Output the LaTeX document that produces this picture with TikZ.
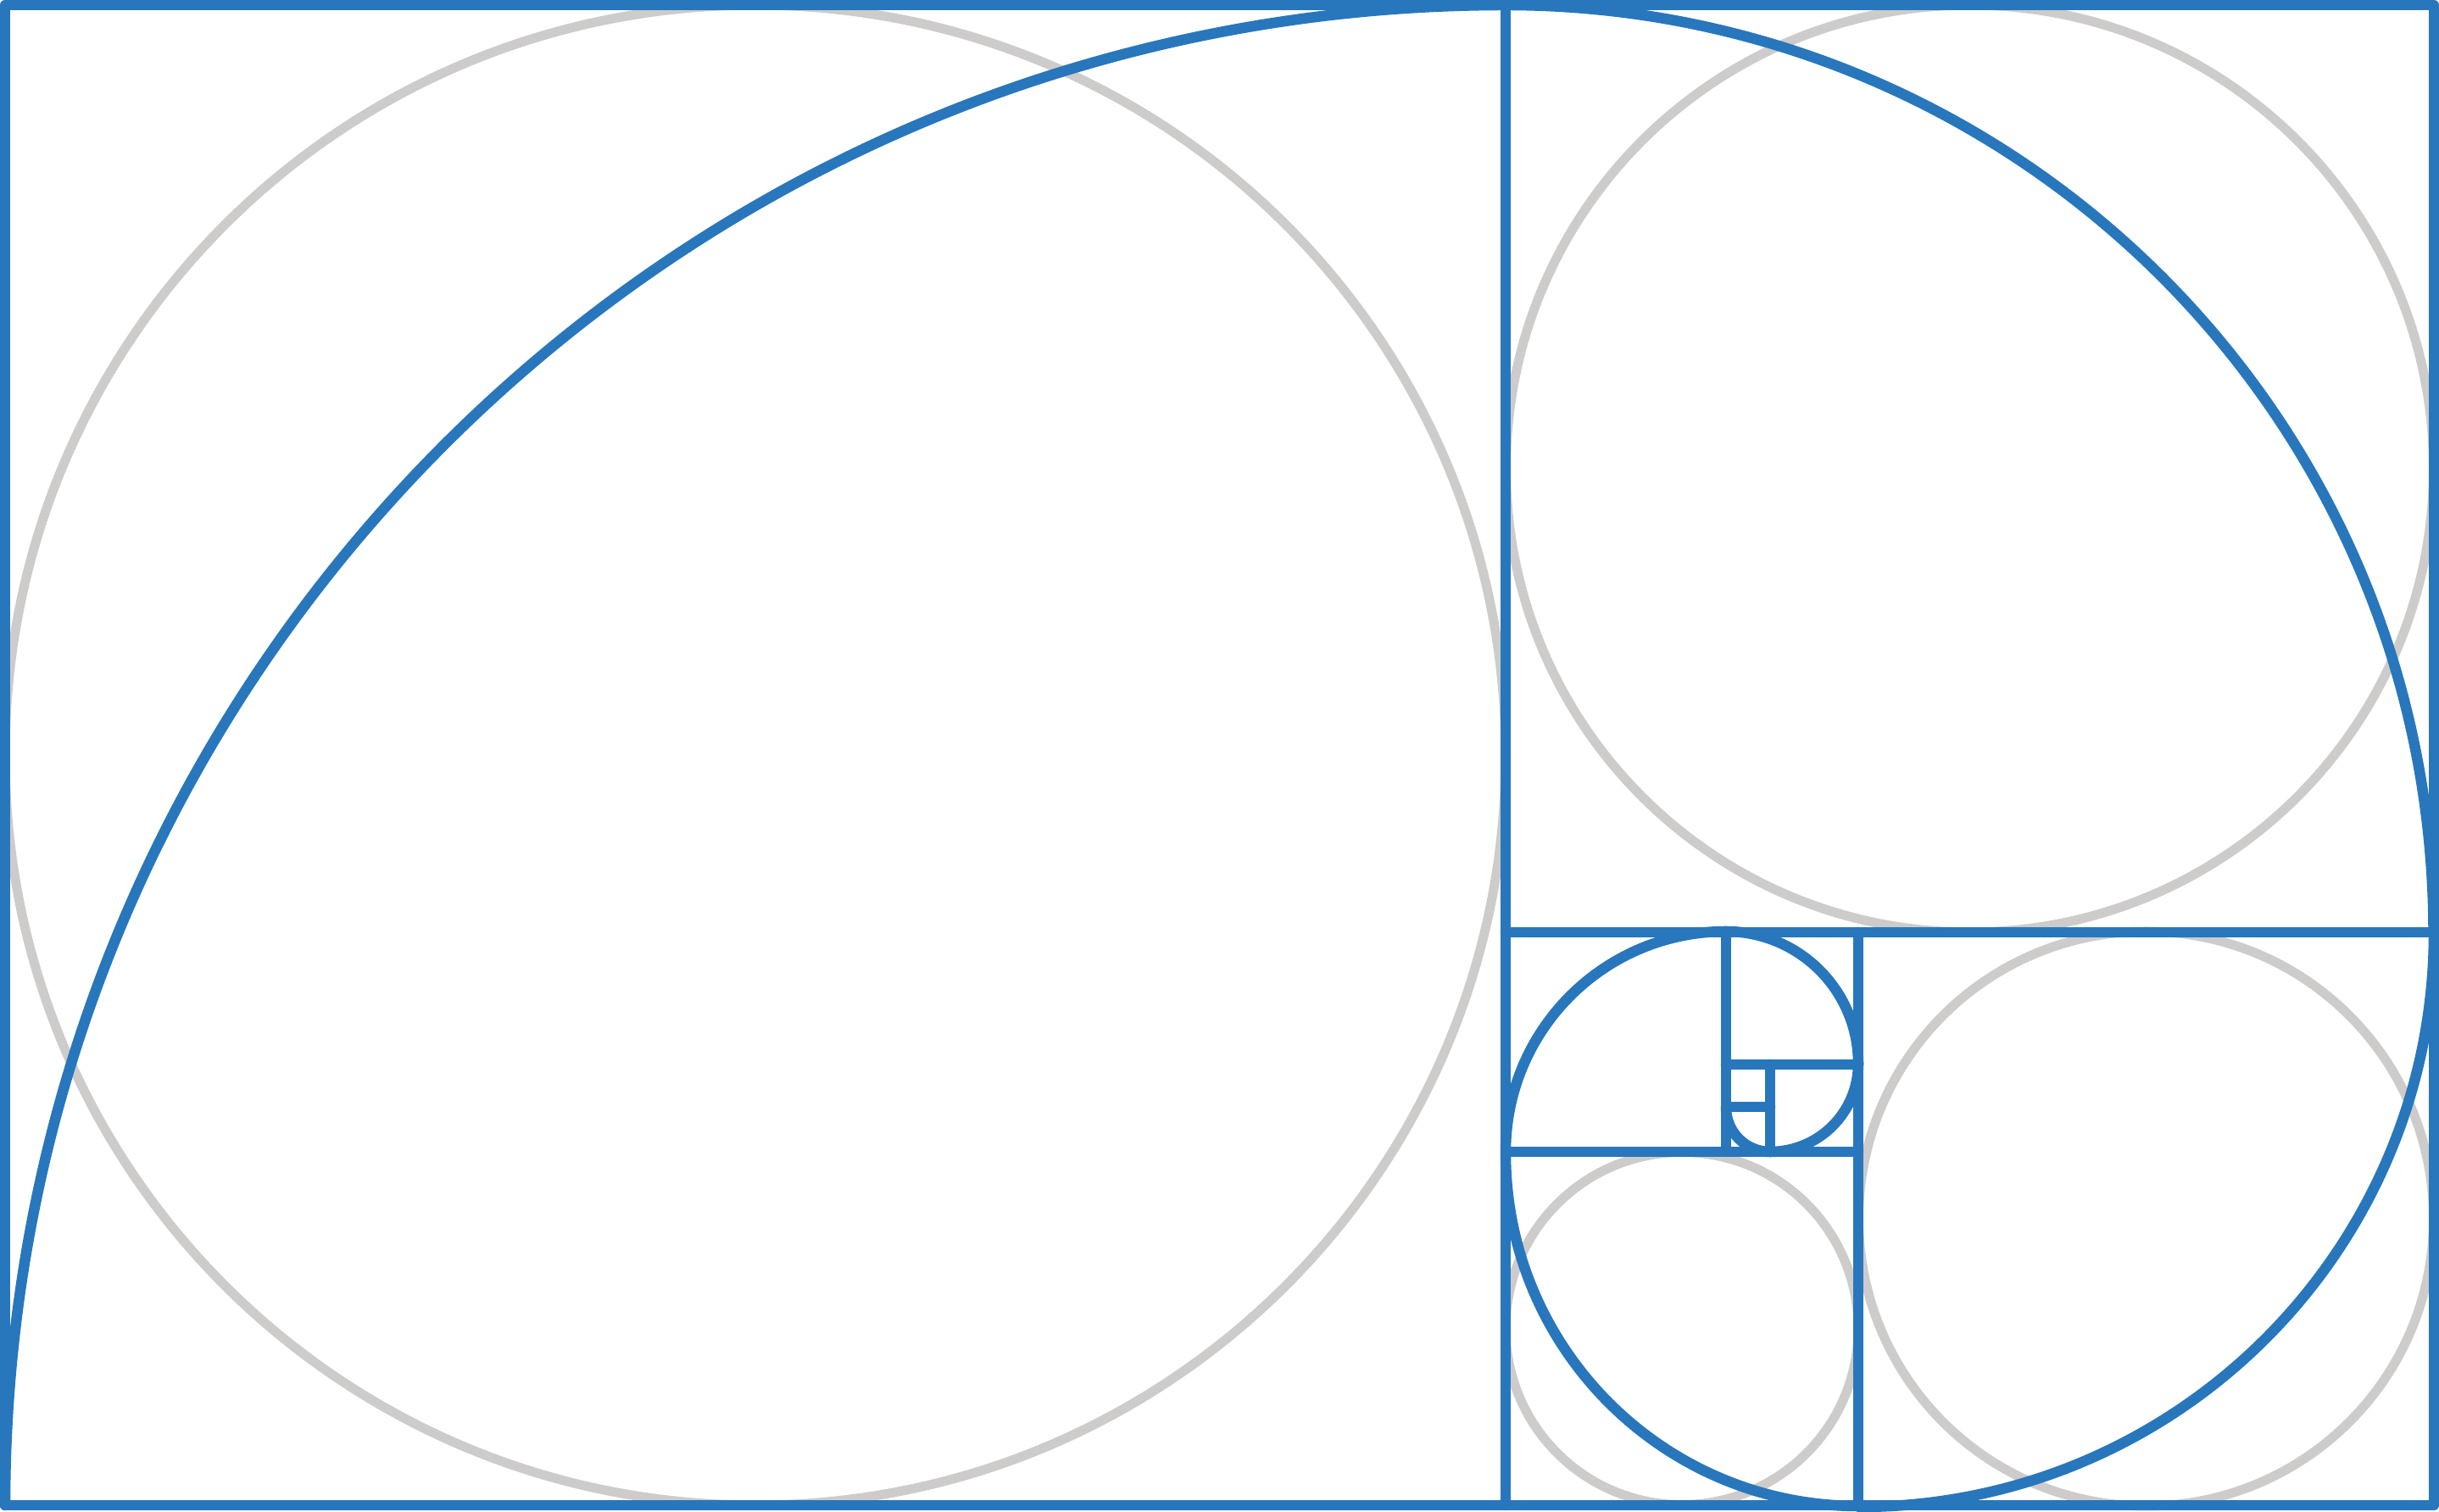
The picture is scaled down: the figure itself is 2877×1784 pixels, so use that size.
\documentclass[tikz,border=0pt]{standalone}
\definecolor{spiralblue}{HTML}{2877BC}
\definecolor{guidegray}{HTML}{CDCCCB}
\begin{document}
\begin{tikzpicture}[x=1pt,y=1pt,
  blueline/.style={draw=spiralblue,line width=12.5pt,line join=round,line cap=round},
  grayline/.style={draw=guidegray,line width=11pt}]
\useasboundingbox (0,0) rectangle (2877,1784);
\fill[white] (0,0) rectangle (2877,1784);
% gray inscribed circles
\draw[grayline] (891,893) circle[radius=885];
\draw[grayline] (2323.5,1231) circle[radius=547];
\draw[grayline] (2531.5,346) circle[radius=339];
\draw[grayline] (1984,216.5) circle[radius=208];
% squares
\coordinate (bl) at (6,8);
\coordinate (tr) at (2871,1778);
\draw[blueline] (bl) rectangle (tr);
\draw[blueline] (1776,8) -- (1776,1778);
\draw[blueline] (1776,684) -- (2871,684);
\draw[blueline] (2192,684) -- (2192,8);
\draw[blueline] (1776,425) -- (2192,425);
\draw[blueline] (2036,684) -- (2036,425);
\draw[blueline] (2036,528) -- (2192,528);
\draw[blueline] (2088,528) -- (2088,425);
\draw[blueline] (2036,478) -- (2088,478);
% spiral arcs
\draw[blueline] (6,8) arc[start angle=180,end angle=90,radius=1770];
\draw[blueline] (1776,1778) arc[start angle=90,end angle=0,radius=1094.5];
\draw[blueline] (2871,684) arc[start angle=0,end angle=-90,radius=678];
\draw[blueline] (2192,7) arc[start angle=-90,end angle=-180,radius=416];
\draw[blueline] (1776,425) arc[start angle=180,end angle=90,radius=260];
\draw[blueline] (2036,685) arc[start angle=90,end angle=0,radius=156];
\draw[blueline] (2192,529) arc[start angle=0,end angle=-90,radius=104];
\draw[blueline] (2088,425) arc[start angle=-90,end angle=-180,radius=52];
\end{tikzpicture}
\end{document}
